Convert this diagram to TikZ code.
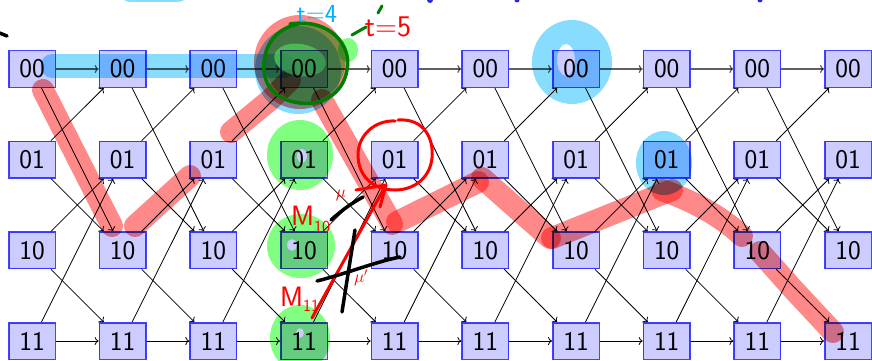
\documentclass[tikz,border=0pt]{standalone}
\usepackage{fontspec}
\usetikzlibrary{arrows.meta}
\definecolor{boxfill}{RGB}{204,204,255}
\definecolor{boxblue}{RGB}{68,68,255}
\definecolor{hlred}{RGB}{255,136,136}
\definecolor{hlblue}{RGB}{136,221,255}
\definecolor{hlgreen}{RGB}{128,255,128}
\definecolor{brightgreen}{RGB}{80,215,90}
\definecolor{pengreen}{RGB}{0,125,0}
\definecolor{pencyan}{RGB}{0,176,255}
\definecolor{penblue}{RGB}{40,40,220}
\definecolor{arrgray}{RGB}{95,95,95}
\tikzset{
  stbox/.style={draw=boxblue, fill=boxfill, line width=1.5pt, minimum width=46.5pt,
    minimum height=36.5pt, inner sep=0pt, font=\fontsize{27}{27}\sffamily},
  edge/.style={line width=0.8pt, -{To[length=4pt,width=8pt]}},
  zeroedge/.style={edge, draw=arrgray, line width=1.2pt},
  hl/.style={line width=22pt, line cap=round, line join=round},
  pen/.style={line width=3pt, line cap=round, line join=round},
  hand/.style={inner sep=0pt, font=\sffamily}
}
\begin{document}
\begin{tikzpicture}[x=1pt, y=-1pt]
\useasboundingbox (0,0) rectangle (872,361);
\clip (0,0) rectangle (872,361);

% ---------- highlighter strokes (multiply) ----------
\begin{scope}[blend mode=multiply]
  % blue
  \draw[hl, hlblue, line width=23pt] (52,66) -- (285,66);
  \draw[hl, hlblue, line width=20pt] (130,-8) -- (178,-8);
  \fill[hlblue] (298,70) ellipse [x radius=43, y radius=44];
  \fill[hlblue, even odd rule] (572,62) ellipse [x radius=40, y radius=42]
        (566,60) ellipse [x radius=9, y radius=16];
  \fill[hlblue] (664,163) ellipse [x radius=28, y radius=32];
  % red
  \draw[hl, hlred] (43,90) -- (112,226);
  \draw[hl, hlred] (135,226) -- (190,176);
  \draw[hl, hlred] (231,132) -- (270,100) -- (290,80);
  \fill[hlred] (300,62) ellipse [x radius=46, y radius=47];
  \draw[hl, hlred] (322,100) -- (392,224);
  \draw[hl, hlred] (397,222) -- (478,182);
  \draw[hl, hlred] (482,178) -- (550,238);
  \draw[hl, hlred] (552,238) -- (672,190);
  \draw[hl, hlred] (662,190) .. controls (690,200) and (720,215) .. (742,236);
  \draw[hl, hlred] (760,252) -- (792,288) -- (833,332);
  % green
  \fill[hlgreen] (305,62) circle [radius=40];
  \fill[hlgreen] (348,50) ellipse [x radius=10, y radius=12];
  \fill[hlgreen, even odd rule] (300,155) ellipse [x radius=33, y radius=35]
        (302,156) ellipse [x radius=5, y radius=7];
  \fill[hlgreen, even odd rule] (301,246) ellipse [x radius=34, y radius=32]
        (292,245) ellipse [x radius=5, y radius=6];
  \fill[hlgreen, even odd rule] (300,338) ellipse [x radius=30, y radius=33]
        (300,333) ellipse [x radius=4, y radius=5];
\end{scope}
\fill[brightgreen, opacity=0.7, rotate around={-10:(300,60)}] (300,60) ellipse [x radius=26, y radius=16];

% ---------- trellis (multiply, so highlights show through) ----------
\begin{scope}[blend mode=multiply]
  \foreach \c in {0,...,9}{
    \foreach \r/\lab in {0/00,1/01,2/10,3/11}{
      \node[stbox] (n-\c-\r) at ({32+90.67*\c},{69+90.67*\r}) {\lab};
    }
  }
  \foreach \c in {0,...,8}{
    \pgfmathtruncatemacro{\d}{\c+1}
    \draw[zeroedge] (n-\c-0) -- (n-\d-0);
    \draw[edge] (n-\c-0) -- (n-\d-2);
    \draw[edge] (n-\c-1) -- (n-\d-0);
    \draw[edge] (n-\c-1) -- (n-\d-2);
    \draw[edge] (n-\c-2) -- (n-\d-1);
    \draw[edge] (n-\c-2) -- (n-\d-3);
    \draw[edge] (n-\c-3) -- (n-\d-1);
    \draw[edge] (n-\c-3) -- (n-\d-3);
  }
\end{scope}

% ---------- pen annotations ----------
\draw[pen, pengreen, line width=3.5pt] (290,24) .. controls (330,18) and (352,45) .. (347,70)
   .. controls (343,95) and (320,106) .. (300,103) .. controls (275,100) and (262,85) .. (264,62)
   .. controls (266,40) and (280,28) .. (298,24);
\draw[pen, pengreen] (352,35) -- (366,27);
\draw[pen, pengreen] (378,13) -- (382,6);
\draw[pen, red] (398,120) .. controls (425,118) and (434,140) .. (432,158)
   .. controls (430,178) and (414,190) .. (395,190) .. controls (372,190) and (358,175) .. (358,155)
   .. controls (358,135) and (375,120) .. (395,121);
% red arrow from M11
\draw[pen, red] (312,318) -- (386,185);
\draw[pen, red] (356,190) -- (386,185) -- (380,207);
% black strokes
\draw[pen, black, line width=3.5pt] (331,220) .. controls (342,210) and (352,203) .. (363,197);
\draw[pen, black, line width=3.5pt] (317,281) .. controls (345,274) and (375,262) .. (400,257);
\draw[pen, black, line width=3.5pt] (355,230) -- (342,312);
\draw[pen, black, line width=3.5pt] (-3,32) -- (7,36);
% small blue dots at the top edge
\fill[penblue] (430,0) circle [radius=3];
\fill[penblue] (517,0) circle [radius=2.5];
\fill[penblue] (760,0) circle [radius=2.5];

% ---------- handwritten labels ----------
\node[hand, text=pencyan, font=\fontsize{26}{26}\sffamily] (t4) at (317,14) {t=4};
\node[hand, text=red, font=\fontsize{30}{30}\sffamily] (t5) at (388,27) {t=5};
\node[hand, text=red, font=\fontsize{28}{28}\sffamily, anchor=base west] (m10) at (291,225)
   {M\raisebox{-7pt}{\fontsize{17}{17}\selectfont 10}};
\node[hand, text=red, font=\fontsize{28}{28}\sffamily, anchor=base west] (m11) at (280,306)
   {M\raisebox{-5pt}{\fontsize{17}{17}\selectfont 11}};
\node[hand, text=red, font=\fontsize{17}{17}\selectfont] (mu1) at (341,195) {$\mu$};
\node[hand, text=red, font=\fontsize{17}{17}\selectfont] (mu2) at (361,278) {$\mu'$};
\end{tikzpicture}
\end{document}
